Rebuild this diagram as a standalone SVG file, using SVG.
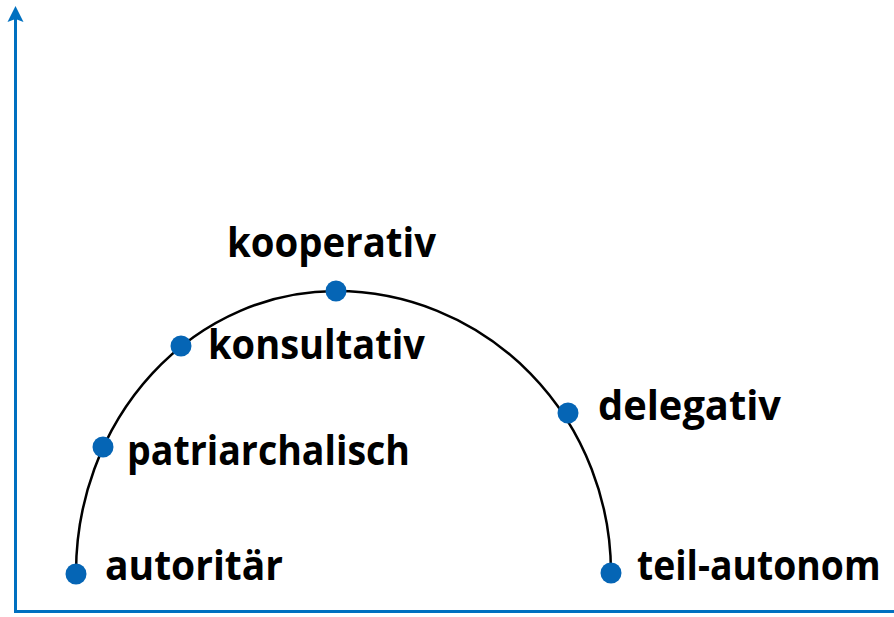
<svg xmlns="http://www.w3.org/2000/svg" width="894" height="617" viewBox="0 0 894 617">
<style>
.lbl{font-family:"Open Sans","Noto Sans","Liberation Sans",sans-serif;font-weight:bold;font-size:41px;fill:#000}
.dot{fill:#0565B5}
.axis{stroke:#0070C0;stroke-width:3;fill:none}
.curve{stroke:#000;stroke-width:2.5;fill:none}
</style>
<g id="axes">
<line class="axis" x1="15.5" y1="612" x2="15.5" y2="18"/>
<path d="M15.5,6 L23.5,22 L15.5,19 L7.5,22 Z" fill="#0070C0"/>
<line class="axis" x1="14" y1="611.5" x2="894" y2="611.5"/>
</g>
<g id="connectors">
<path class="curve" d="M76,573 A260,282 0 0 1 336,291 A275,282 0 0 1 611,573"/>
</g>
<g id="autoritaer"><circle class="dot" cx="76" cy="574" r="10.5"/><text class="lbl" x="105" y="580" textLength="178" lengthAdjust="spacingAndGlyphs">autoritär</text></g>
<g id="patriarchalisch"><circle class="dot" cx="103" cy="447" r="10.5"/><text class="lbl" x="127" y="465" textLength="283" lengthAdjust="spacingAndGlyphs">patriarchalisch</text></g>
<g id="konsultativ"><circle class="dot" cx="181" cy="346" r="10.5"/><text class="lbl" x="208" y="359" textLength="217" lengthAdjust="spacingAndGlyphs">konsultativ</text></g>
<g id="kooperativ"><circle class="dot" cx="336" cy="291" r="10.5"/><text class="lbl" x="227" y="257" textLength="209" lengthAdjust="spacingAndGlyphs">kooperativ</text></g>
<g id="delegativ"><circle class="dot" cx="568" cy="413" r="10.5"/><text class="lbl" x="598" y="420" textLength="183" lengthAdjust="spacingAndGlyphs">delegativ</text></g>
<g id="teil-autonom"><circle class="dot" cx="611" cy="573" r="10.5"/><text class="lbl" transform="translate(637,580) scale(0.91,1)" x="0" y="0">teil-autonom</text></g>
</svg>
